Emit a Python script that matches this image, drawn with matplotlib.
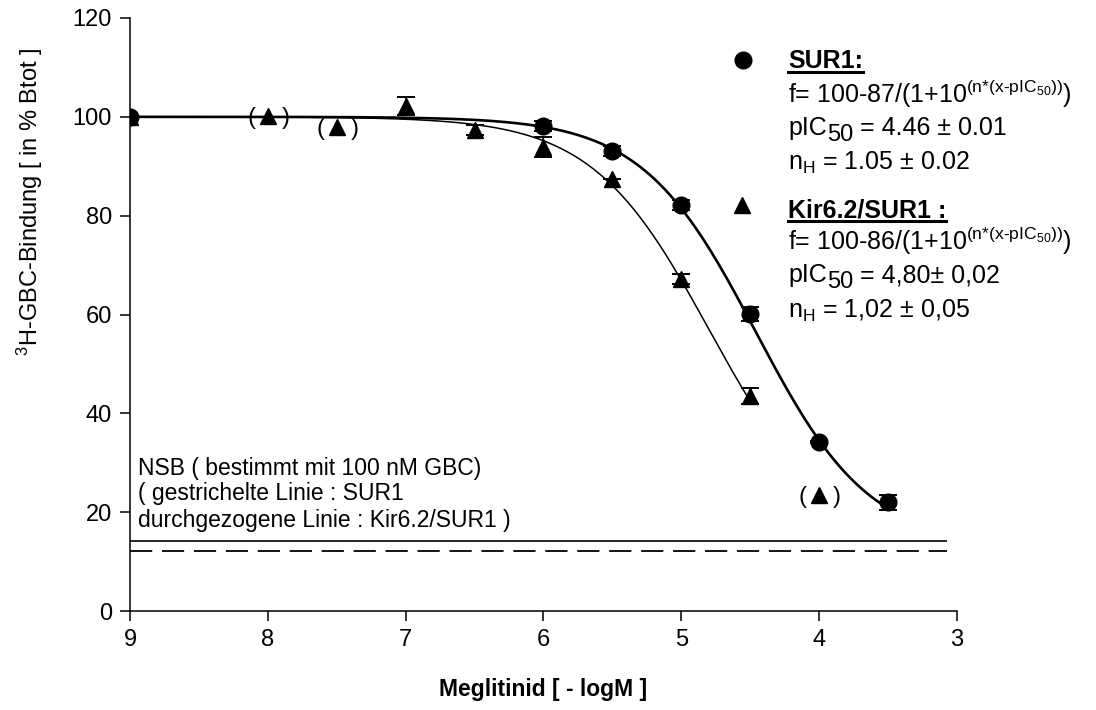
import matplotlib
matplotlib.use("Agg")
import matplotlib.pyplot as plt
from matplotlib.lines import Line2D
from matplotlib.transforms import IdentityTransform
import numpy as np

# --- Daten ---
sur1_x = [9, 6, 5.5, 5, 4.5, 4, 3.5]
sur1_y = [100, 98.2, 93.1, 82.2, 60.1, 34.2, 22.0]
sur1_err = [0, 1.0, 1.0, 1.0, 1.5, 0.3, 1.5]

kir_x = [9, 7, 6.5, 6, 5.5, 5, 4.5]
kir_y = [100, 102.2, 97.4, 93.9, 87.4, 67.2, 43.5]
kir_err = [0, 1.8, 1.0, 2.0, 0, 1.0, 1.6]

# eingeklammerte (nicht gefittete) Punkte Kir6.2/SUR1
kir_excl_x = [8, 7.5, 4]
kir_excl_y = [100.2, 98.0, 23.5]

# Fit-Parameter aus der Legende
sur1_fit = dict(top=100, span=87, pic50=4.46, nh=1.05, x_end=3.5)
kir_fit = dict(top=100, span=86, pic50=4.80, nh=1.02, x_end=4.5)

nsb_kir = 14.2   # durchgezogen
nsb_sur1 = 12.1  # gestrichelt
nsb_x_end = 3.07

x_ticks = [9, 8, 7, 6, 5, 4, 3]
y_ticks = [0, 20, 40, 60, 80, 100, 120]

plt.rcParams['font.family'] = ['Liberation Sans', 'DejaVu Sans']
plt.rcParams['mathtext.fontset'] = 'custom'
plt.rcParams['mathtext.rm'] = 'Liberation Sans'
plt.rcParams['mathtext.it'] = 'Liberation Sans:italic'
plt.rcParams['mathtext.bf'] = 'Liberation Sans:bold'
plt.rcParams['lines.scale_dashes'] = False


def fit_curve(p, x):
    return p['top'] - p['span'] / (1 + 10 ** (p['nh'] * (x - p['pic50'])))


fig = plt.figure(figsize=(10.96, 7.10), dpi=100)
ax = fig.add_axes([130 / 1096, 99 / 710, 827 / 1096, 593 / 710])

# Fitkurven
xs = np.linspace(9, sur1_fit['x_end'], 300)
ax.plot(xs, fit_curve(sur1_fit, xs), color='black', lw=1.9, zorder=2)
xk = np.linspace(9, kir_fit['x_end'], 300)
ax.plot(xk, fit_curve(kir_fit, xk), color='black', lw=1.1, zorder=2)

# NSB-Linien
ax.hlines(nsb_kir, 9, nsb_x_end, color='black', lw=1.2)
ax.plot([9, nsb_x_end], [nsb_sur1, nsb_sur1], color='black', lw=1.3, dashes=(16, 7))

# Messpunkte
ax.errorbar(kir_x, kir_y, yerr=kir_err, fmt='^', color='black', ms=12,
            capsize=6.5, elinewidth=1.2, capthick=1.4, zorder=3)
ax.errorbar(sur1_x, sur1_y, yerr=sur1_err, fmt='o', color='black', ms=12,
            capsize=6.5, elinewidth=1.2, capthick=1.4, zorder=4)
ax.plot(kir_excl_x, kir_excl_y, '^', color='black', ms=12, zorder=3)
for x, y in zip(kir_excl_x, kir_excl_y):
    ax.annotate('(', xy=(x, y), xytext=(-12, -1.5), textcoords='offset points',
                ha='center', va='center', fontsize=17)
    ax.annotate(')', xy=(x, y), xytext=(13, -1.5), textcoords='offset points',
                ha='center', va='center', fontsize=17)

# Achsen
ax.set_xlim(9, 3)
ax.set_ylim(0, 120)
ax.set_xticks(x_ticks)
ax.set_yticks(y_ticks)
ax.spines['top'].set_visible(False)
ax.spines['right'].set_visible(False)
for s in ('left', 'bottom'):
    ax.spines[s].set_linewidth(1.1)
ax.tick_params(direction='out', length=7, width=1.1, labelsize=17, pad=6)
ax.set_xlabel('Meglitinid [ - logM ]', fontsize=16.5, fontweight='bold')
ax.xaxis.set_label_coords(0.5, -0.113)
ax.set_ylabel(r'$^{3}$H-GBC-Bindung [ in % Btot ]', fontsize=17)
ax.yaxis.set_label_coords(-0.103, 0.69)

# NSB-Text
nsb_lines = ['NSB ( bestimmt mit 100 nM GBC)',
             '( gestrichelte Linie : SUR1',
             'durchgezogene Linie : Kir6.2/SUR1 )']
for txt, yb in zip(nsb_lines, [0.2293, 0.1872, 0.1417]):
    ax.text(0.0097, yb, txt, transform=ax.transAxes, fontsize=16.5, va='baseline')

# Legende
tx = 0.7957
leg_fs = 18
ax.plot([0.741], [0.929], 'o', color='black', ms=12, transform=ax.transAxes, clip_on=False)
ax.plot([0.740], [0.6846], '^', color='black', ms=12, transform=ax.transAxes, clip_on=False)

formula_sup = r'$^{\text{(n*(x-pIC}_{\text{50}}\text{))}}$'


def legend_block(title, span, pic50_txt, nh_txt, yb):
    t = ax.text(tx, yb[0], title, transform=ax.transAxes, fontsize=leg_fs,
                fontweight='bold', va='baseline')
    ax.text(tx, yb[1], 'f= 100-%d/(1+10' % span + formula_sup + ')',
            transform=ax.transAxes, fontsize=leg_fs, va='baseline')
    # pIC50 mit grossem, tiefgestelltem "50"
    ta = ax.text(tx, yb[2], 'pIC', transform=ax.transAxes, fontsize=leg_fs, va='baseline')
    tb = ax.annotate('50', xy=(1, yb[2]), xycoords=(ta, 'axes fraction'),
                     xytext=(0, -4), textcoords='offset points',
                     fontsize=leg_fs - 1, va='baseline')
    ax.annotate(pic50_txt, xy=(1, yb[2]), xycoords=(tb, 'axes fraction'),
                xytext=(0, 0), textcoords='offset points',
                fontsize=leg_fs, va='baseline')
    ax.text(tx, yb[3], r'n$_{\mathrm{H}}$' + nh_txt, transform=ax.transAxes,
            fontsize=leg_fs, va='baseline')
    return t


t1 = legend_block('SUR1:', sur1_fit['span'], ' = 4.46 ± 0.01', ' = 1.05 ± 0.02',
                  [0.9157, 0.8567, 0.8027, 0.7437])
t2 = legend_block('Kir6.2/SUR1 :', kir_fit['span'], ' = 4,80± 0,02', ' = 1,02 ± 0,05',
                  [0.6644, 0.6088, 0.5548, 0.4941])

# Unterstreichungen der Titel
fig.canvas.draw()
renderer = fig.canvas.get_renderer()
for t in (t1, t2):
    bb = t.get_window_extent(renderer)
    base = ax.transAxes.transform((0, t.get_position()[1]))[1]
    fig.add_artist(Line2D([bb.x0, bb.x1], [base - 4, base - 4], color='black',
                          lw=2.2, transform=IdentityTransform()))

fig.savefig('out.png', dpi=100)
